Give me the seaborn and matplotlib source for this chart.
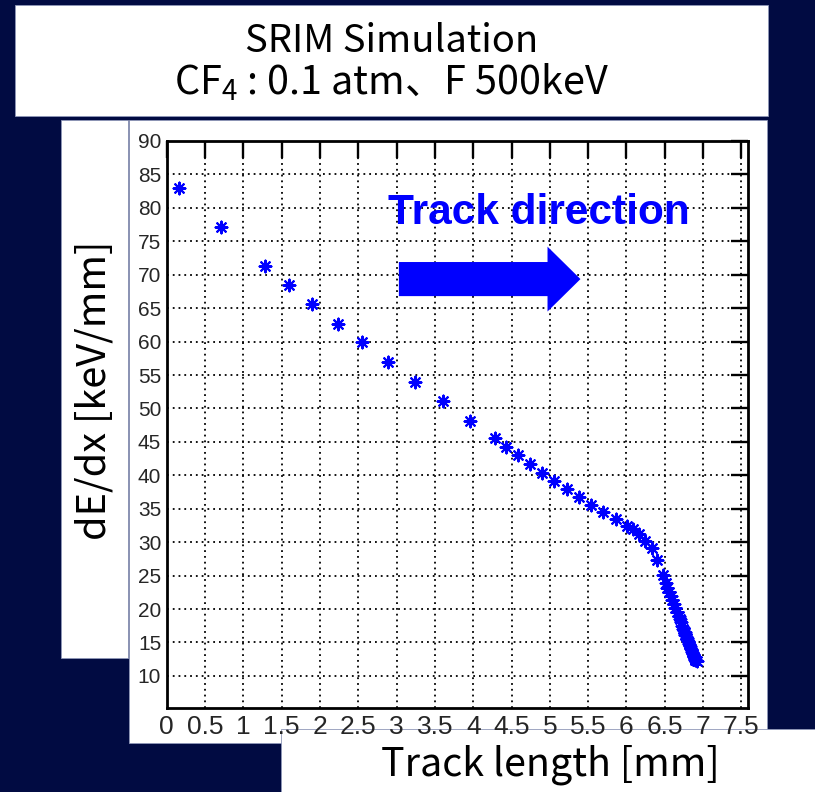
import matplotlib
matplotlib.use('Agg')
import matplotlib.pyplot as plt
from matplotlib.patches import Rectangle
import seaborn as sns
import pandas as pd


# SRIM: dE/dx along the track of a 500 keV F ion in CF4 (0.1 atm)
track_length = [0.16, 0.71, 1.28, 1.59, 1.90, 2.23, 2.55, 2.89, 3.24, 3.60,
                3.96, 4.29, 4.43, 4.58, 4.74, 4.90, 5.06, 5.22, 5.38, 5.54,
                5.69, 5.86, 6.01, 6.08, 6.16, 6.24, 6.33, 6.40, 6.48,
                6.51, 6.53, 6.56, 6.58, 6.60, 6.62, 6.64, 6.66, 6.68, 6.70,
                6.71, 6.73, 6.74, 6.76, 6.77, 6.79, 6.80, 6.82, 6.83, 6.84,
                6.86, 6.87, 6.88, 6.89, 6.90, 6.92]
dedx = [82.9, 77.1, 71.3, 68.4, 65.6, 62.7, 59.9, 56.9, 54.0, 51.1,
        48.1, 45.6, 44.3, 43.0, 41.7, 40.4, 39.2, 38.0, 36.8, 35.6,
        34.5, 33.4, 32.4, 31.9, 31.2, 30.2, 29.1, 27.4, 25.1,
        23.9, 23.2, 22.5, 21.9, 21.3, 20.7, 20.1, 19.6, 19.0, 18.5,
        18.0, 17.5, 17.0, 16.6, 16.1, 15.7, 15.2, 14.8, 14.4, 14.0,
        13.6, 13.3, 12.9, 12.6, 12.4, 12.2]

x_ticks = [0, 0.5, 1, 1.5, 2, 2.5, 3, 3.5, 4, 4.5, 5, 5.5, 6, 6.5, 7, 7.5]
x_tick_labels = ['0', '0.5', '1', '1.5', '2', '2.5', '3', '3.5', '4', '4.5',
                 '5', '5.5', '6', '6.5', '7', '7.5']
y_ticks = [10, 15, 20, 25, 30, 35, 40, 45, 50, 55, 60, 65, 70, 75, 80, 85, 90]

title_lines = ['SRIM Simulation', 'CF$_4$ : 0.1 atm、F 500keV']
x_label = 'Track length [mm]'
y_label = 'dE/dx [keV/mm]'
note = 'Track direction'

navy = '#010b42'
W, H = 815, 792

sns.set_style('white')
plt.rcParams['font.family'] = ['Liberation Sans', 'Noto Sans CJK JP']
plt.rcParams['mathtext.fontset'] = 'custom'
plt.rcParams['mathtext.rm'] = 'Noto Sans CJK JP'
plt.rcParams['mathtext.it'] = 'Noto Sans CJK JP'


def fig_box(fig, x0, y0, x1, y1):
    # pixel box (top-left origin) -> figure fraction
    rect = Rectangle((x0 / W, 1 - y1 / H), (x1 - x0) / W, (y1 - y0) / H,
                     transform=fig.transFigure, facecolor='white',
                     edgecolor='#8f97b8', linewidth=0.6, zorder=-5)
    fig.add_artist(rect)


fig = plt.figure(figsize=(W / 100, H / 100), dpi=100, facecolor=navy)
fig_box(fig, 15, 5, 768, 116)      # title
fig_box(fig, 61, 120, 128, 658)    # y label
fig_box(fig, 129, 120, 767, 743)   # plot
fig_box(fig, 281, 729, 815, 792)   # x label

ax = fig.add_axes([166.7 / W, (H - 708) / H, (747.5 - 166.7) / W, (708 - 141) / H])
ax.set_facecolor('white')

df = pd.DataFrame({'length': track_length, 'dedx': dedx})
sns.scatterplot(data=df, x='length', y='dedx', marker=(8, 2, 0), s=72,
                color='blue', linewidth=1.5, ax=ax, zorder=3)

ax.arrow(3.03, 69.35, 2.37, 0, width=5.1, head_width=9.7, head_length=0.43,
         length_includes_head=True, color='blue', linewidth=0, zorder=4)
ax.text(2.89, 77.65, note, color='blue', fontsize=30.5, fontweight='bold',
        family='Liberation Sans', va='baseline', ha='left', zorder=4)

ax.set_xlim(0, 7.58)
ax.set_ylim(5.2, 90)
ax.set_xticks(x_ticks, x_tick_labels)
ax.set_yticks(y_ticks)
ax.set_xlabel('')
ax.set_ylabel('')
ax.grid(True, color='black', linestyle=(0, (1, 2.2)), linewidth=1.3)
ax.tick_params(direction='in', length=12, width=1.7, top=True, right=True,
               color='black')
ax.tick_params(axis='x', labelsize=19, pad=5)
ax.tick_params(axis='y', labelsize=15, pad=4)
for side in ax.spines.values():
    side.set_visible(True)
    side.set_color('black')
    side.set_linewidth(2)

fig.text(391.5 / W, 1 - 52 / H, title_lines[0], ha='center', va='baseline',
         fontsize=27.5, family='Noto Sans CJK JP', color='black')
fig.text(391.5 / W, 1 - 95 / H, title_lines[1], ha='center', va='baseline',
         fontsize=28.5, family='Noto Sans CJK JP', color='black')
fig.text(550 / W, 1 - 765 / H, x_label, ha='center', va='center',
         fontsize=28.4, family='Noto Sans CJK JP', color='black')
fig.text(95 / W, 1 - 390 / H, y_label, ha='center', va='center', rotation=90,
         fontsize=28.6, family='Noto Sans CJK JP', color='black')

fig.savefig('out.png', dpi=100, facecolor=navy)
